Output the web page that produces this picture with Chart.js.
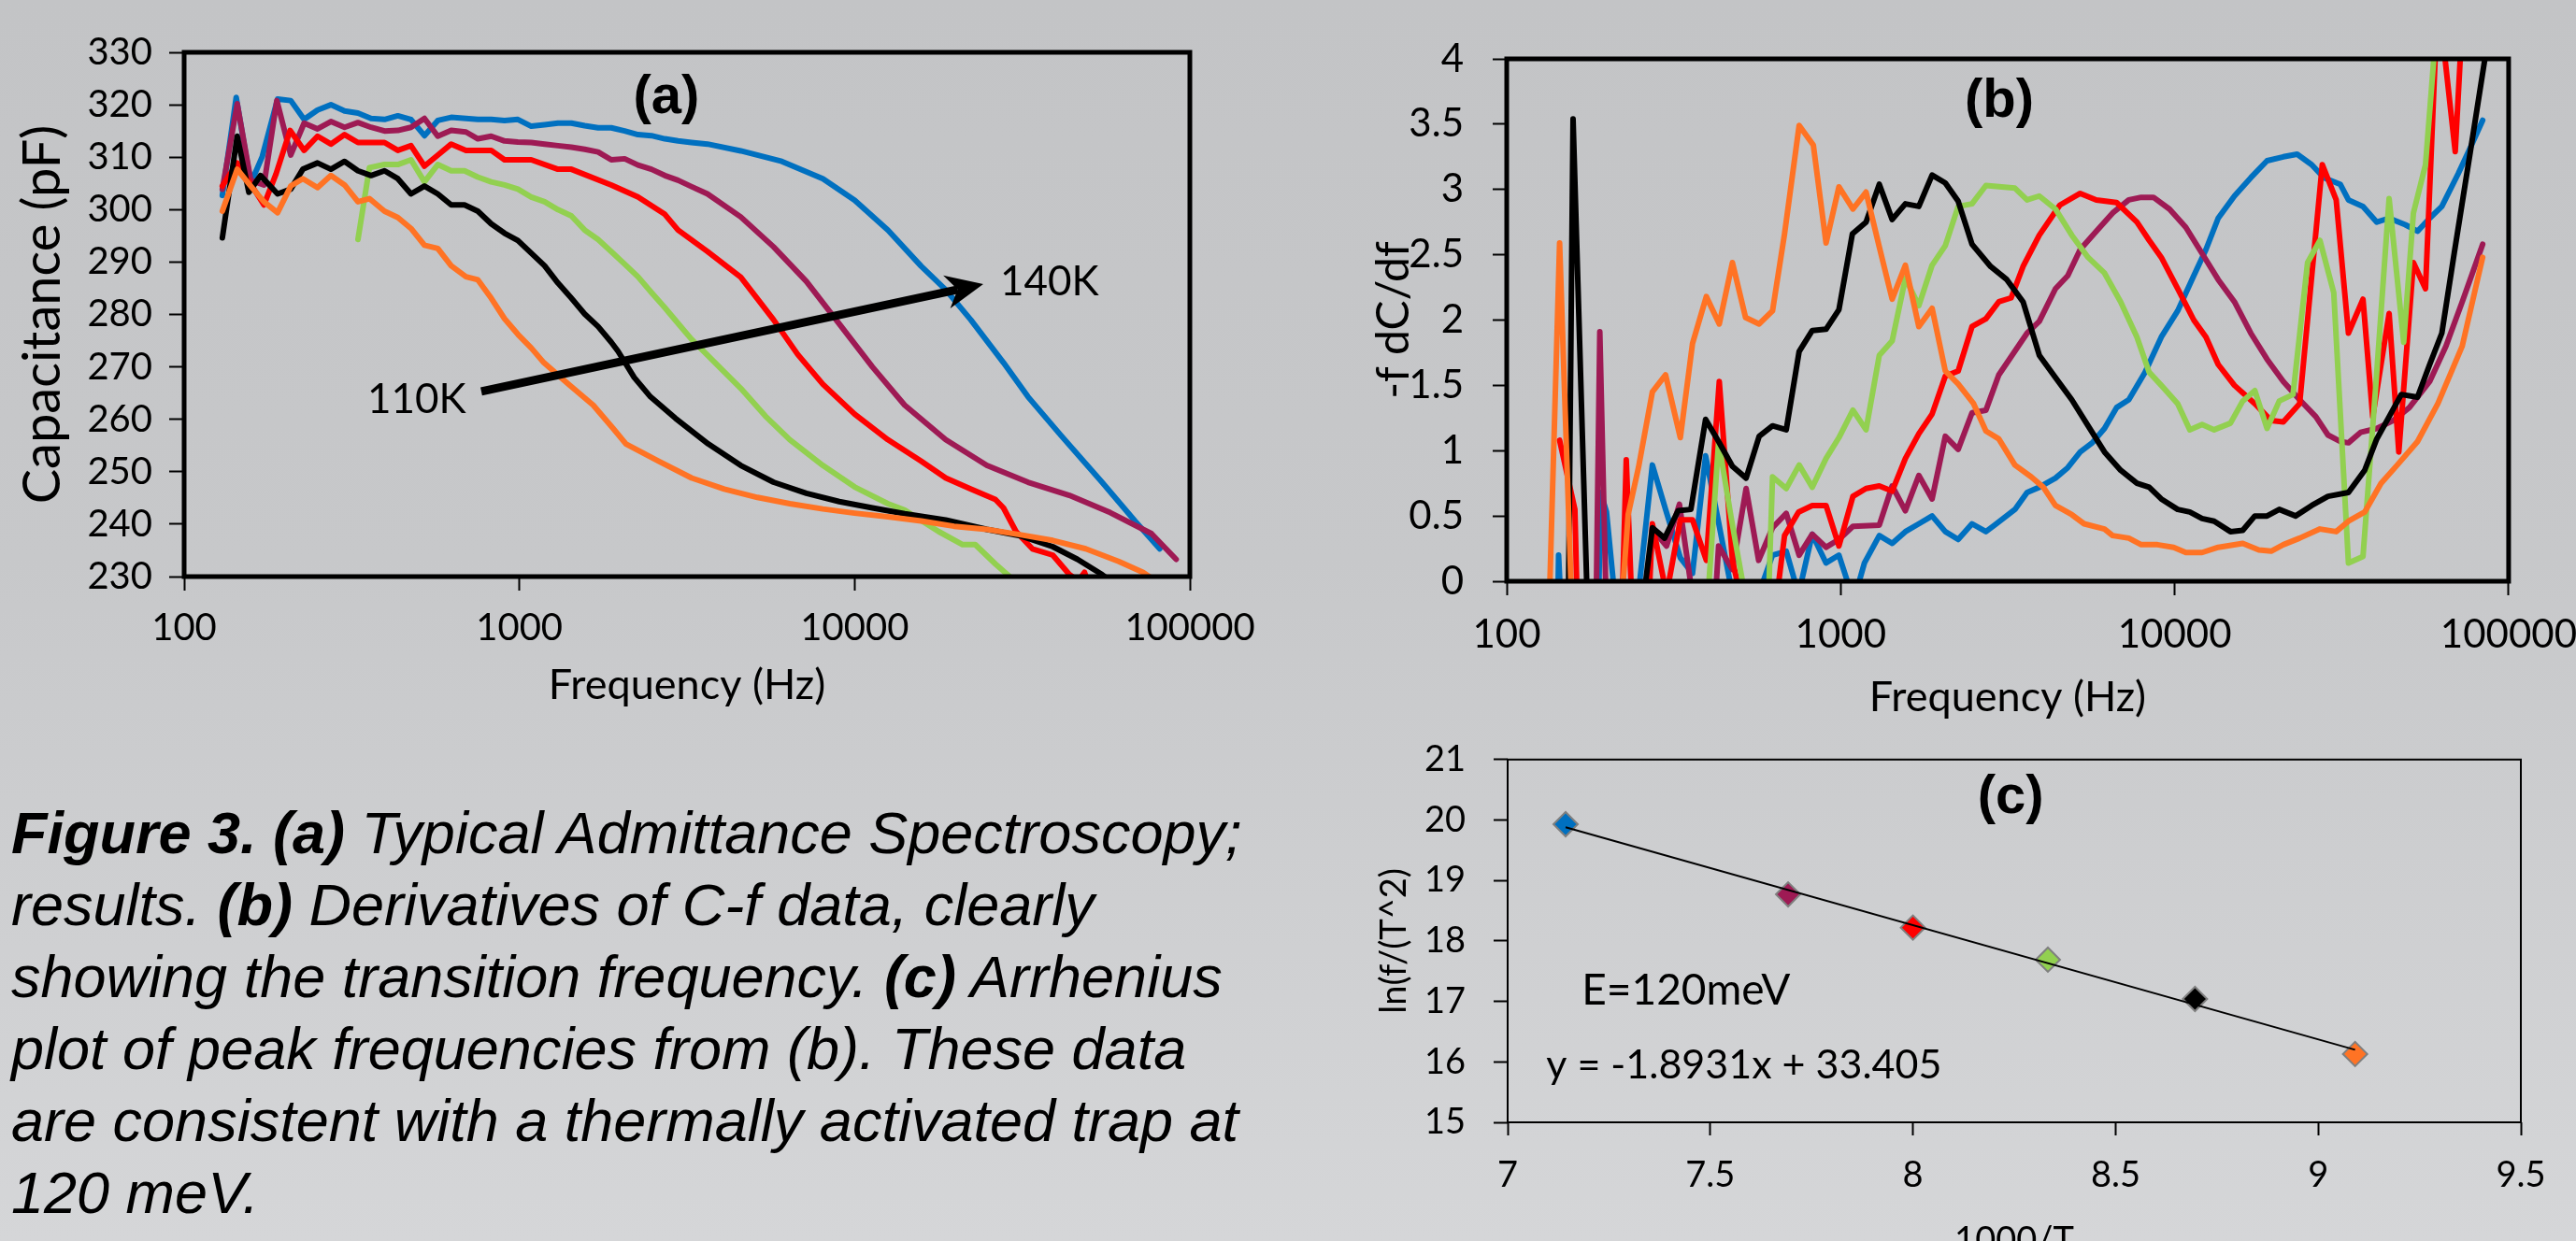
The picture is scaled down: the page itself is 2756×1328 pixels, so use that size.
<!DOCTYPE html>
<html><head><meta charset="utf-8">
<script src="https://cdn.jsdelivr.net/npm/chart.js@4.4.1/dist/chart.umd.min.js"></script>
<style>
html,body{margin:0;padding:0;}
body{width:2756px;height:1328px;overflow:hidden;position:relative;background:linear-gradient(180deg,#c3c4c6 0%,#c7c8ca 45%,#d5d6d8 100%);}
canvas{position:absolute;}
#caption{position:absolute;left:12px;top:853px;font-family:"Liberation Sans",Arial,sans-serif;font-style:italic;font-size:63px;line-height:77px;color:#000;white-space:nowrap;}
#caption b{font-weight:bold;}
</style></head><body>
<canvas id="ca" width="1360" height="780" style="left:0;top:0"></canvas>
<canvas id="cb" width="1394" height="800" style="left:1380px;top:0"></canvas>
<canvas id="cc" width="1400" height="610" style="left:1380px;top:760px"></canvas>
<div id="caption"><b>Figure 3. (a)</b> Typical Admittance Spectroscopy;<br>results. <b>(b)</b> Derivatives of C-f data, clearly<br>showing the transition frequency. <b>(c)</b> Arrhenius<br>plot of peak frequencies from (b). These data<br>are consistent with a thermally activated trap at<br>120 meV.</div>
<script>
// ---------------- DATA ----------------
// (a) Capacitance vs frequency
const freqTicks = [100, 1000, 10000, 100000];

const fA_blue = [130,143,158,171,190,208,228,250,274,301,330,361,396,434,475,521,571,626,693,752,824,903,990,1085,1189,1303,1429,1566,1717,1880,2061,2258,2477,2716,2973,3259,3640,4575,6065,8040,10000,12570,15800,18700,22200,27800,32900,41300,54700,68600,81300];
const cA_blue = [302.7,321.4,305.0,310.1,321.1,320.8,317.2,319.0,320.0,318.8,318.4,317.4,317.2,317.9,317.2,314.1,317.0,317.6,317.4,317.2,317.2,317.0,317.2,315.9,316.2,316.5,316.5,316.0,315.6,315.6,315.0,314.3,314.1,313.5,313.1,312.8,312.5,311.2,309.2,305.9,301.8,296.1,289.2,284.7,279.0,270.8,264.3,256.9,248.0,240.6,235.3];

const fA_purple = [130,144,158,173,189,208,228,250,274,301,330,361,396,434,475,521,571,626,693,752,824,903,990,1085,1189,1303,1429,1566,1717,1880,2061,2258,2477,2716,2973,3259,3640,4575,5730,7180,9000,11300,14100,18700,24800,32900,43700,57900,76800,91000];
const cA_purple = [303.9,320.2,305.6,304.7,320.8,310.4,316.5,315.4,316.8,315.7,316.6,315.7,315.0,315.1,315.7,317.4,314.0,315.1,314.8,313.5,314.0,313.1,312.9,312.8,312.5,312.2,311.9,311.5,311.0,309.5,309.7,308.5,307.7,306.5,305.6,304.4,303.0,298.6,292.9,286.3,278.2,270.0,262.7,256.1,251.2,248.0,245.5,242.2,238.2,233.3];

const fA_red = [130,144,173,188,207,228,250,274,301,330,396,434,475,521,571,626,693,824,903,1085,1303,1429,1880,2258,2716,2973,3640,4575,5730,6760,8040,10000,12570,15800,18700,22200,26300,27800,30300,33900,39000,43700,46500,48500,51000];
const cA_red = [304.5,308.9,300.9,306.8,315.1,311.3,314.0,312.5,314.3,312.8,312.8,311.3,312.2,308.3,310.4,312.5,311.3,311.3,309.5,309.5,307.7,307.7,304.7,302.4,299.1,296.1,292.0,287.1,279.0,272.4,266.7,261.0,256.1,252.0,248.8,246.7,244.7,243.1,238.6,235.3,234.1,230.4,229.2,230.8,227.0];

const fA_green = [330,357,396,434,475,521,571,626,686,752,824,903,990,1085,1189,1303,1429,1566,1717,1880,2061,2258,2477,2716,2973,3259,4575,5420,6410,8040,10000,12570,14100,17800,21000,22900,26300,29500,31000];
const cA_green = [294.3,308.0,308.6,308.6,309.5,305.3,308.6,307.4,307.4,306.2,305.3,304.7,303.9,302.4,301.5,300.0,298.8,296.1,294.3,292.0,289.6,287.2,284.2,281.3,278.3,275.3,265.9,260.6,256.1,251.2,247.1,243.9,242.7,238.6,236.1,236.1,232.4,229.6,228.0];

const fA_black = [130,144,156,169,190,208,226,250,274,301,330,361,396,434,475,521,571,626,686,752,824,903,990,1085,1189,1303,1429,1566,1717,1880,1968,2200,2460,2920,3660,4575,5730,7180,9000,11300,14100,18700,24800,31100,39000,46200,54700,57800];
const cA_black = [294.6,314.0,303.3,306.5,303.0,303.9,307.7,308.9,307.7,309.2,307.4,306.5,307.4,305.9,303.0,304.5,303.0,300.9,300.9,299.7,297.3,295.5,294.1,291.7,289.3,286.0,283.1,280.1,277.7,274.7,273.0,268.0,264.3,260.2,255.3,251.2,248.0,245.9,244.3,243.1,242.0,240.8,239.0,237.8,235.7,233.3,230.4,229.2];

const fA_orange = [130,144,158,173,190,208,226,250,274,301,330,357,396,434,475,521,571,626,693,752,824,903,990,1085,1183,1400,1660,1907,2080,2606,3265,4085,5130,6410,8040,10000,12570,15800,19800,24800,31100,39000,48900,61300,72500,78900];
const cA_orange = [299.7,307.7,304.5,301.5,299.4,304.5,305.9,304.2,306.5,304.7,301.5,302.1,299.7,298.5,296.4,293.2,292.6,289.3,287.2,286.6,283.1,279.2,276.2,273.6,270.8,266.7,262.7,258.2,255.3,252.0,248.8,246.7,245.1,243.9,242.9,242.1,241.4,240.6,239.6,239.0,238.0,236.9,235.3,232.9,230.8,229.2];

// (b) -f dC/df vs frequency
const fB_orange = [133,144,158,219,231,248,273,299,331,360,396,433,474,519,570,625,679,751,828,904,988,1088,1191,1305,1426,1562,1714,1878,2057,2248,2500,2722,2974,3324,3718,4044,4396,4920,5355,6165,6520,7290,7940,8880,9930,10800,12080,13500,15990,17870,19450,21150,23670,27230,30460,33140,37070,41480,46400,53360,61400,72620,83600];
const vB_orange = [-0.5,2.59,-0.5,-0.3,0.51,0.87,1.45,1.58,1.10,1.82,2.18,1.97,2.44,2.02,1.97,2.07,2.66,3.49,3.34,2.59,3.02,2.85,2.98,2.56,2.16,2.42,1.95,2.09,1.61,1.51,1.36,1.15,1.09,0.89,0.80,0.72,0.58,0.51,0.44,0.40,0.35,0.33,0.28,0.28,0.26,0.22,0.22,0.26,0.29,0.24,0.23,0.28,0.33,0.40,0.38,0.46,0.53,0.75,0.89,1.07,1.36,1.80,2.48];

const fB_black = [153,158,174,255,273,297,326,356,394,431,474,521,570,625,687,751,822,904,988,1084,1191,1305,1426,1562,1714,1878,2057,2248,2473,2812,3143,3516,3933,4396,4920,5505,6165,6890,7710,8390,9120,10210,11100,12080,13130,14690,15990,17380,18910,20570,23020,25720,28780,33140,37070,40290,43870,47700,53360,58030,63100,68700,76800,84900,88000];
const vB_black = [-0.2,3.54,-0.1,-0.2,0.41,0.33,0.54,0.55,1.24,1.07,0.88,0.79,1.11,1.19,1.16,1.76,1.92,1.93,2.08,2.66,2.75,3.04,2.77,2.89,2.87,3.11,3.05,2.91,2.58,2.41,2.31,2.14,1.73,1.56,1.39,1.19,0.99,0.85,0.75,0.72,0.63,0.55,0.53,0.48,0.46,0.38,0.39,0.50,0.50,0.55,0.50,0.58,0.65,0.68,0.85,1.09,1.26,1.43,1.41,1.66,1.90,2.51,3.29,4.0,4.4];

const fB_green = [396,431,469,533,605,625,687,751,822,904,988,1088,1191,1305,1426,1562,1714,1878,2057,2248,2473,2722,3324,3615,3933,4396,4920,5505,6165,6890,7710,8390,9120,10210,11100,12080,13130,14690,15990,17380,18910,20570,22620,25000,27230,29950,33140,36640,40290,43870,48500,51870,56380,59700,61000];
const vB_green = [-0.3,1.07,0.50,-0.3,-0.3,0.80,0.71,0.89,0.72,0.94,1.10,1.31,1.16,1.73,1.84,2.32,2.11,2.42,2.57,2.87,2.89,3.03,3.01,2.92,2.95,2.85,2.65,2.48,2.36,2.14,1.87,1.60,1.50,1.36,1.16,1.20,1.16,1.21,1.38,1.46,1.17,1.38,1.43,2.44,2.61,2.21,0.14,0.19,1.60,2.93,1.83,2.82,3.19,4.0,4.5];

const fB_red = [144,160,163,221,228,238,265,273,301,331,360,396,433,474,521,631,679,748,822,904,988,1088,1191,1305,1426,1562,1714,1878,2057,2248,2473,2722,2974,3239,3516,3933,4531,5214,5825,6700,7710,8390,9120,10210,11410,12410,13500,15100,17380,19450,21150,23670,27670,30460,33140,36640,39180,43870,46900,51870,56380,61400,69200,73400];
const vB_red = [1.08,0.55,-0.3,-0.3,0.93,-0.3,-0.3,0.44,-0.1,0.47,0.47,0.16,1.53,0.16,-0.3,-0.3,0.35,0.53,0.58,0.58,0.27,0.65,0.71,0.73,0.69,0.94,1.13,1.28,1.57,1.61,1.95,2.01,2.14,2.17,2.41,2.65,2.88,2.97,2.92,2.90,2.75,2.61,2.48,2.24,2.00,1.87,1.66,1.50,1.36,1.23,1.22,1.36,3.19,2.92,1.90,2.16,1.26,2.05,0.99,2.44,2.24,4.5,3.29,4.5];

const fB_purple = [185,190,199,262,273,301,329,364,420,431,474,521,568,625,687,751,822,904,988,1088,1305,1426,1562,1714,1878,2057,2248,2473,2722,2974,3615,3933,4396,4786,5214,5825,6520,7290,7940,8640,9650,10800,12080,13500,15100,16900,18910,21150,23670,26470,28780,31320,33140,36030,40290,45080,50430,58030,64900,72620,83600];
const vB_purple = [-0.3,1.91,-0.3,-0.3,0.40,0.27,0.59,-0.2,-0.2,0.27,0.09,0.71,0.16,0.41,0.52,0.20,0.36,0.26,0.32,0.42,0.43,0.73,0.54,0.81,0.63,1.11,1.01,1.29,1.31,1.58,1.90,1.99,2.24,2.34,2.54,2.68,2.82,2.92,2.94,2.94,2.85,2.71,2.51,2.31,2.14,1.90,1.70,1.53,1.39,1.26,1.12,1.07,1.06,1.14,1.17,1.23,1.33,1.53,1.80,2.14,2.58];

const fB_blue = [142,143,146,188,191,199,214,243,273,299,331,360,394,431,474,568,625,687,748,822,904,988,1094,1178,1305,1426,1562,1714,1878,2057,2248,2473,2722,2891,3324,3615,3933,4396,4786,5214,5665,6165,6700,7290,8150,9120,10210,11410,12410,13500,15100,16900,18910,21150,23270,25720,27990,31320,33140,36640,40290,43870,49060,53360,58030,63100,70600,76800,83600];
const vB_blue = [-0.3,0.2,-0.3,-0.3,0.68,0.53,-0.3,-0.3,0.89,0.55,0.18,0.06,0.96,0.45,-0.1,-0.1,0.20,0.23,-0.1,0.36,0.14,0.20,-0.15,0.14,0.35,0.29,0.38,0.44,0.50,0.38,0.32,0.44,0.38,0.43,0.55,0.68,0.72,0.79,0.87,0.99,1.06,1.17,1.33,1.39,1.60,1.87,2.07,2.34,2.54,2.78,2.95,3.09,3.22,3.25,3.27,3.19,3.09,3.04,2.92,2.87,2.75,2.78,2.73,2.68,2.78,2.87,3.12,3.32,3.53];

// (c) Arrhenius plot
const invT = [7.143, 7.692, 8.0, 8.333, 8.696, 9.091];
const lnFT2 = [19.93, 18.77, 18.22, 17.69, 17.04, 16.13];
const trendX = [7.143, 9.091];
const trendY = [19.88, 16.20];

// ---------------- STYLE ----------------
const BLUE='#0070C0', PURPLE='#9E1A54', RED='#FF0000', GREEN='#92D050', BLACK='#000000', ORANGE='#FF7324';
const pointColors = [BLUE, PURPLE, RED, GREEN, BLACK, ORANGE];
const fmt = v => String(Math.round(v * 1000) / 1000);

function toXY(xs, ys){ return xs.map((x,i)=>({x:x, y:ys[i]})); }
function lineDS(xs, ys, color, w){
  return {data: toXY(xs, ys), borderColor: color, backgroundColor: color, borderWidth: w,
          pointRadius: 0, tension: 0, fill: false, borderJoinStyle: 'round', borderCapStyle: 'round'};
}

function framePlugin(width, color){
  return {id:'frame', afterDatasetsDraw(chart){
    const {ctx, chartArea:a} = chart;
    ctx.save(); ctx.strokeStyle = color; ctx.lineWidth = width;
    ctx.strokeRect(a.left, a.top, a.right - a.left, a.bottom - a.top);
    ctx.restore();
  }};
}
function notesPlugin(texts, arrows){
  return {id:'notes', afterDraw(chart){
    const {ctx} = chart; const xs = chart.scales.x, ys = chart.scales.y;
    (arrows||[]).forEach(ar => {
      const x0 = xs.getPixelForValue(ar.x0), y0 = ys.getPixelForValue(ar.y0);
      const x1 = xs.getPixelForValue(ar.x1), y1 = ys.getPixelForValue(ar.y1);
      const ang = Math.atan2(y1 - y0, x1 - x0);
      const hl = 40, hw = 18;
      ctx.save(); ctx.strokeStyle = '#000'; ctx.fillStyle = '#000'; ctx.lineWidth = 9;
      ctx.beginPath(); ctx.moveTo(x0, y0);
      ctx.lineTo(x1 - Math.cos(ang) * hl * 0.7, y1 - Math.sin(ang) * hl * 0.7); ctx.stroke();
      ctx.translate(x1, y1); ctx.rotate(ang);
      ctx.beginPath(); ctx.moveTo(0, 0); ctx.lineTo(-hl, -hw); ctx.lineTo(-hl * 0.7, 0); ctx.lineTo(-hl, hw); ctx.closePath(); ctx.fill();
      ctx.restore();
    });
    (texts||[]).forEach(t => {
      ctx.save(); ctx.font = t.font; ctx.fillStyle = '#000';
      ctx.textAlign = t.align || 'center'; ctx.textBaseline = 'middle';
      ctx.fillText(t.text, xs.getPixelForValue(t.x), ys.getPixelForValue(t.y));
      ctx.restore();
    });
  }};
}

function baseAxis(extra){
  return Object.assign({
    grid:{display:true, drawOnChartArea:false, drawTicks:true, tickLength:15, tickColor:'#000', tickWidth:2, color:'#000'},
    border:{display:false},
  }, extra);
}

// ---------------- CHART A ----------------
new Chart(document.getElementById('ca'), {
  type:'line',
  data:{datasets:[
    lineDS(fA_orange, cA_orange, ORANGE, 6),
    lineDS(fA_black, cA_black, BLACK, 6),
    lineDS(fA_green, cA_green, GREEN, 6),
    lineDS(fA_red, cA_red, RED, 6),
    lineDS(fA_purple, cA_purple, PURPLE, 6),
    lineDS(fA_blue, cA_blue, BLUE, 6)
  ]},
  options:{
    responsive:false, animation:false, events:[],
    layout:{padding:{top:56, right:87, left:0, bottom:0}},
    plugins:{legend:{display:false}, tooltip:{enabled:false}},
    scales:{
      x: baseAxis({type:'logarithmic', min:100, max:100000,
        afterBuildTicks: s => { s.ticks = freqTicks.map(v => ({value:v})); },
        afterFit: s => { s.height = 163; },
        ticks:{font:{family:'Lato', size:40}, color:'#000', padding:16, maxRotation:0, autoSkip:false, callback: v => String(v)},
        title:{display:true, text:'Frequency (Hz)', font:{family:'Lato', size:45}, color:'#000', padding:{top:0, bottom:20}}
      }),
      y: baseAxis({type:'linear', min:230, max:330,
        afterFit: s => { s.width = 197; },
        grid:{display:true, drawOnChartArea:false, drawTicks:true, tickLength:16, tickColor:'#000', tickWidth:2},
        ticks:{font:{family:'Lato', size:40}, color:'#000', padding:18, stepSize:10, callback: fmt},
        title:{display:true, text:'Capacitance (pF)', font:{family:'Lato', size:56}, color:'#000', padding:{top:12, bottom:0}}
      })
    }
  },
  plugins:[framePlugin(5, '#000'), notesPlugin([
    {text:'(a)', x:2745, y:321.3, font:'bold 58px "Liberation Sans", Arial, sans-serif'},
    {text:'110K', x:494, y:263.7, font:'44px Lato'},
    {text:'140K', x:38150, y:286.1, font:'44px Lato'}
  ], [{x0:770, y0:265.3, x1:24200, y1:285.8}])]
});

// ---------------- CHART B ----------------
new Chart(document.getElementById('cb'), {
  type:'line',
  data:{datasets:[
    lineDS(fB_orange, vB_orange, ORANGE, 6),
    lineDS(fB_black, vB_black, BLACK, 6),
    lineDS(fB_green, vB_green, GREEN, 6),
    lineDS(fB_red, vB_red, RED, 6),
    lineDS(fB_purple, vB_purple, PURPLE, 6),
    lineDS(fB_blue, vB_blue, BLUE, 6)
  ]},
  options:{
    responsive:false, animation:false, events:[],
    layout:{padding:{top:63, right:80, left:0, bottom:0}},
    plugins:{legend:{display:false}, tooltip:{enabled:false}},
    scales:{
      x: baseAxis({type:'logarithmic', min:100, max:100000,
        afterBuildTicks: s => { s.ticks = freqTicks.map(v => ({value:v})); },
        afterFit: s => { s.height = 178; },
        ticks:{font:{family:'Lato', size:42}, color:'#000', padding:17, maxRotation:0, autoSkip:false, callback: v => String(v)},
        title:{display:true, text:'Frequency (Hz)', font:{family:'Lato', size:45}, color:'#000', padding:{top:0, bottom:27}}
      }),
      y: baseAxis({type:'linear', min:0, max:4,
        afterFit: s => { s.width = 232; },
        ticks:{font:{family:'Lato', size:42}, color:'#000', padding:31, stepSize:0.5, callback: fmt},
        title:{display:true, text:'-f dC/df', font:{family:'Lato', size:48}, color:'#000', padding:{top:83, bottom:0}}
      })
    }
  },
  plugins:[framePlugin(5, '#000'), notesPlugin([
    {text:'(b)', x:2985, y:3.67, font:'bold 58px "Liberation Sans", Arial, sans-serif'}
  ], [])]
});

// ---------------- CHART C ----------------
new Chart(document.getElementById('cc'), {
  type:'line',
  data:{datasets:[
    {data: toXY(trendX, trendY), borderColor:'#000', borderWidth:2, pointRadius:0, tension:0, fill:false},
    {data: toXY(invT, lnFT2), showLine:false, pointStyle:'rectRot', pointRadius:13,
     pointBackgroundColor: pointColors, pointBorderColor:'#7f7f7f', pointBorderWidth:2}
  ]},
  options:{
    responsive:false, animation:false, events:[],
    layout:{padding:{top:38, right:83, left:0, bottom:0}},
    plugins:{legend:{display:false}, tooltip:{enabled:false}},
    scales:{
      x: baseAxis({type:'linear', min:7, max:9.5,
        afterFit: s => { s.height = 169; },
        grid:{display:true, drawOnChartArea:false, drawTicks:true, tickLength:14, tickColor:'#000', tickWidth:2},
        ticks:{font:{family:'Lato', size:38}, color:'#000', padding:20, stepSize:0.5, maxRotation:0, callback: fmt},
        title:{display:true, text:'1000/T', font:{family:'Lato', size:38}, color:'#000', padding:{top:0, bottom:19}}
      }),
      y: baseAxis({type:'linear', min:15, max:21,
        afterFit: s => { s.width = 233; },
        ticks:{font:{family:'Lato', size:38}, color:'#000', padding:30, stepSize:1, callback: fmt},
        title:{display:true, text:'ln(f/(T^2)', font:{family:'Lato', size:38}, color:'#000', padding:{top:89, bottom:0}}
      })
    }
  },
  plugins:[framePlugin(2, '#000'), notesPlugin([
    {text:'(c)', x:8.241, y:20.36, font:'bold 58px "Liberation Sans", Arial, sans-serif'},
    {text:'E=120meV', x:7.44, y:17.17, font:'46px Lato'},
    {text:'y = -1.8931x + 33.405', x:7.583, y:15.94, font:'43px Lato'}
  ], [])]
});
</script>
</body></html>
